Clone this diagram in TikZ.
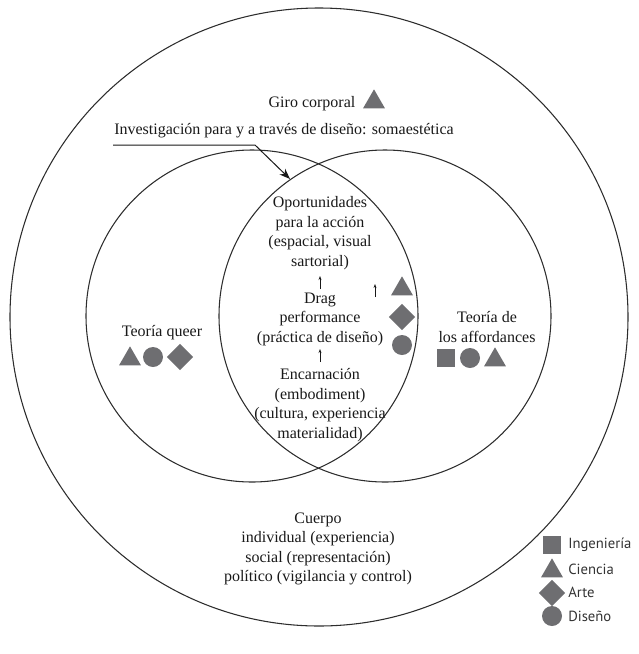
\documentclass[tikz,border=0pt]{standalone}
\usepackage{fontspec}
\setmainfont{Liberation Serif}
\newfontfamily\legendfont{PT Sans}
\usetikzlibrary{shapes.geometric,arrows.meta}

\definecolor{markgray}{RGB}{110,110,113}
\definecolor{linegray}{RGB}{45,45,45}

\tikzset{
  ring/.style={draw=linegray, line width=0.8pt},
  lbl/.style={align=center, inner sep=0pt, font=\rmfamily\fontsize{12}{14.6}\selectfont, text=black!90},
  sqmark/.style={rectangle, fill=markgray, minimum size=13pt, inner sep=0pt},
  trimark/.style={regular polygon, regular polygon sides=3, fill=markgray, minimum size=19pt, inner sep=0pt},
  diamark/.style={diamond, fill=markgray, minimum size=20pt, inner sep=0pt},
  cirmark/.style={circle, fill=markgray, minimum size=15pt, inner sep=0pt},
  legtext/.style={anchor=west, font=\legendfont\fontsize{11}{13}\selectfont, text=black!80, inner sep=0pt},
  uparrow/.style={-{Stealth[length=3pt,width=2.2pt]}, line width=0.45pt, draw=black!90}
}

\begin{document}
\begin{tikzpicture}[x=0.75pt, y=-0.75pt]

		\useasboundingbox (0,0) rectangle (639,654);

		% make the three circles
		\coordinate (cbody) at (319,317);
		\coordinate (cqueer) at (252,316);
		\coordinate (cafford) at (385,316);
		\draw[ring] (cbody) circle (231.75pt);
		\draw[ring] (cqueer) circle (124.5pt);
		\draw[ring] (cafford) circle (124.5pt);

		% make the titles at the top
		\node[lbl] (giro) at (312,104) {Giro corporal};
		\node[trimark] (girotri) at (374,102) {};
		\node[lbl] (invest) at (284,131) {Investigación para y a través de diseño: somaestética};

		% make the underline arrow
		\coordinate (ustart) at (113,145);
		\coordinate (uelbow) at (255,145);
		\coordinate (utip) at (290,179);
		\draw[line width=0.75pt, draw=black!90, -{Stealth[length=8pt,width=6pt]}] (ustart) -- (uelbow) -- (utip);

		% make the texts in the lens
		\node[lbl] (opport) at (320,233) {Oportunidades\\para la acción\\(espacial, visual\\sartorial)};
		\node[lbl] (drag) at (320,319) {Drag\\performance\\(práctica de diseño)};
		\node[lbl] (encarn) at (320,405) {Encarnación\\(embodiment)\\(cultura, experiencia\\materialidad)};

		% make the small up arrows
		\coordinate (arrowa) at (320,289);
		\coordinate (arrowb) at (375,297);
		\coordinate (arrowc) at (320,362);
		\draw[uparrow] (arrowa) -- ++(0,-13);
		\draw[uparrow] (arrowb) -- ++(0,-13);
		\draw[uparrow] (arrowc) -- ++(0,-13);

		% make the marks in the lens
		\node[trimark] (lenstri) at (402,289) {};
		\node[diamark] (lensdia) at (402,317) {};
		\node[cirmark] (lenscir) at (402,345) {};

		% make the left circle
		\node[lbl] (queer) at (162,333) {Teoría queer};
		\node[trimark] (queertri) at (130,359) {};
		\node[cirmark] (queercir) at (153,357) {};
		\node[diamark] (queerdia) at (180,357) {};

		% make the right circle
		\node[lbl] (afford) at (487,327) {Teoría de\\los affordances};
		\node[sqmark] (affordsq) at (446,358) {};
		\node[cirmark] (affordcir) at (470,358) {};
		\node[trimark] (affordtri) at (495,360) {};

		% make the body text
		\node[lbl] (cuerpo) at (318,549) {Cuerpo\\individual (experiencia)\\social (representación)\\político (vigilancia y control)};

		% make the legend
		\node[sqmark] (legsq) at (552,545) {};
		\node[trimark] (legtri) at (552,571) {};
		\node[diamark] (legdia) at (552,593) {};
		\node[cirmark] (legcir) at (552,616) {};
		\node[legtext] (legsqtext) at (568,545) {Ingeniería};
		\node[legtext] (legtritext) at (568,569) {Ciencia};
		\node[legtext] (legdiatext) at (568,592) {Arte};
		\node[legtext] (legcirtext) at (568,616) {Diseño};

\end{tikzpicture}
\end{document}
